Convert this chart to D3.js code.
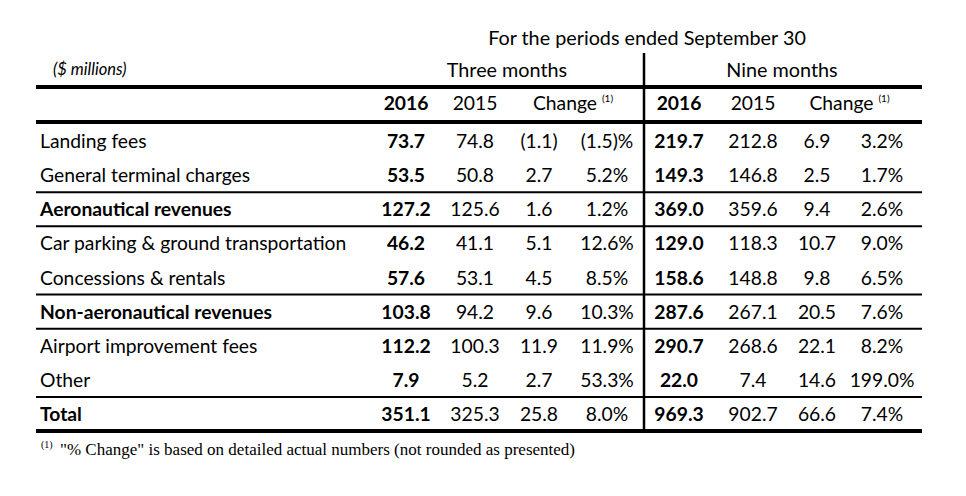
<!DOCTYPE html>
<html>
<head>
<meta charset="utf-8">
<script src="https://cdn.jsdelivr.net/npm/d3@7"></script>
<style>
  html, body { margin: 0; padding: 0; background: #fff; }
  svg { display: block; }
  text { font-family: Lato, "Open Sans", sans-serif; fill: #000; }
</style>
</head>
<body>
<svg id="chart" width="966" height="496"></svg>
<script>
// ---- data ----
const title = "For the periods ended September 30";
const unitsLabel = "($ millions)";
const periodLabels = ["Three months", "Nine months"];
const yearLabels = ["2016", "2015"];
const changeLabel = "Change";
const noteMark = "(1)";
const footnote = "\"% Change\" is based on detailed actual numbers (not rounded as presented)";

const categories = [
  "Landing fees",
  "General terminal charges",
  "Aeronautical revenues",
  "Car parking & ground transportation",
  "Concessions & rentals",
  "Non-aeronautical revenues",
  "Airport improvement fees",
  "Other",
  "Total"
];
const subtotalRows = ["Aeronautical revenues", "Non-aeronautical revenues", "Total"];

const three2016   = [73.7, 53.5, 127.2, 46.2, 57.6, 103.8, 112.2, 7.9, 351.1];
const three2015   = [74.8, 50.8, 125.6, 41.1, 53.1, 94.2, 100.3, 5.2, 325.3];
const threeChange = [-1.1, 2.7, 1.6, 5.1, 4.5, 9.6, 11.9, 2.7, 25.8];
const threePct    = [-1.5, 5.2, 1.2, 12.6, 8.5, 10.3, 11.9, 53.3, 8.0];
const nine2016    = [219.7, 149.3, 369.0, 129.0, 158.6, 287.6, 290.7, 22.0, 969.3];
const nine2015    = [212.8, 146.8, 359.6, 118.3, 148.8, 267.1, 268.6, 7.4, 902.7];
const nineChange  = [6.9, 2.5, 9.4, 10.7, 9.8, 20.5, 22.1, 14.6, 66.6];
const ninePct     = [3.2, 1.7, 2.6, 9.0, 6.5, 7.6, 8.2, 199.0, 7.4];

// rows after which a thin rule is drawn
const rulesAfter = ["General terminal charges", "Aeronautical revenues",
                    "Concessions & rentals", "Non-aeronautical revenues", "Other"];

// ---- layout ----
const svg = d3.select("#chart");
const FS = 19.3;
const left = 36, right = 922;
const divX = 644;

const columns = [
  { key: "t16", values: three2016,   kind: "num", bold: true },
  { key: "t15", values: three2015,   kind: "num" },
  { key: "tch", values: threeChange, kind: "chg" },
  { key: "tpc", values: threePct,    kind: "pct" },
  { key: "n16", values: nine2016,    kind: "num", bold: true },
  { key: "n15", values: nine2015,    kind: "num" },
  { key: "nch", values: nineChange,  kind: "chg" },
  { key: "npc", values: ninePct,     kind: "pct" }
];
const x = d3.scaleOrdinal()
  .domain(columns.map(c => c.key))
  .range([406, 475, 539, 607, 679, 753, 817, 882]);

const y = d3.scaleBand().domain(categories).range([124, 431]).padding(0);

const f1 = d3.format(".1f");
const fmt = {
  num: v => f1(v),
  chg: v => v < 0 ? "(" + f1(-v) + ")" : f1(v),
  pct: v => v < 0 ? "(" + f1(-v) + ")%" : f1(v) + "%"
};

// title
svg.append("text")
  .attr("x", 647).attr("y", 45)
  .attr("text-anchor", "middle")
  .style("font-size", "19.8px")
  .text(title);

svg.append("text")
  .attr("x", 53).attr("y", 75)
  .style("font-size", "16.5px").style("font-style", "italic")
  .text(unitsLabel);

svg.selectAll("text.period")
  .data(periodLabels)
  .join("text")
  .attr("class", "period")
  .attr("x", (d, i) => i === 0 ? 507 : 782)
  .attr("y", 77)
  .attr("text-anchor", "middle")
  .style("font-size", "19.8px")
  .text(d => d);

// header row
const hdrY = 110;
[["t16", "t15", "tch", "tpc"], ["n16", "n15", "nch", "npc"]].forEach(keys => {
  yearLabels.forEach((lab, i) => {
    svg.append("text")
      .attr("x", x(keys[i])).attr("y", hdrY)
      .attr("text-anchor", "middle")
      .style("font-size", FS + "px")
      .style("font-weight", i === 0 ? "bold" : "normal")
      .text(lab);
  });
  const cx = (x(keys[2]) + x(keys[3])) / 2;
  const t = svg.append("text")
    .attr("x", cx).attr("y", hdrY)
    .attr("text-anchor", "middle")
    .style("font-size", FS + "px");
  t.append("tspan").text(changeLabel);
  t.append("tspan").text("\u00A0");
  t.append("tspan").attr("dy", -8).style("font-size", "10px").text(noteMark);
});

// body
const rows = svg.append("g");
categories.forEach((cat, r) => {
  const base = y(cat) + y.bandwidth() / 2 + 7;
  const isSub = subtotalRows.includes(cat);
  rows.append("text")
    .attr("x", 40).attr("y", base)
    .style("font-size", FS + "px")
    .style("font-weight", isSub ? "bold" : "normal")
    .text(cat);
  columns.forEach(col => {
    rows.append("text")
      .attr("x", x(col.key)).attr("y", base)
      .attr("text-anchor", "middle")
      .style("font-size", FS + "px")
      .style("font-weight", col.bold ? "bold" : "normal")
      .text(fmt[col.kind](col.values[r]));
  });
});

// rules
const hline = (yy, w) => svg.append("line")
  .attr("x1", left).attr("x2", right)
  .attr("y1", yy).attr("y2", yy)
  .attr("stroke", "#000").attr("stroke-width", w);

hline(87, 4);
hline(122, 4);
rulesAfter.forEach(cat => hline(y(cat) + y.bandwidth(), 2));
hline(y.range()[1], 4);

svg.append("line")
  .attr("x1", divX).attr("x2", divX)
  .attr("y1", 53).attr("y2", y.range()[1])
  .attr("stroke", "#000").attr("stroke-width", 2.5);

// footnote
svg.append("text")
  .attr("x", 41).attr("y", 448)
  .style("font-family", "'Liberation Serif', 'DejaVu Serif', serif")
  .style("font-size", "10px")
  .text(noteMark);
svg.append("text")
  .attr("x", 60).attr("y", 455)
  .style("font-family", "'Liberation Serif', 'DejaVu Serif', serif")
  .style("font-size", "17px")
  .attr("textLength", 515)
  .attr("lengthAdjust", "spacingAndGlyphs")
  .text(footnote);
</script>
</body>
</html>
